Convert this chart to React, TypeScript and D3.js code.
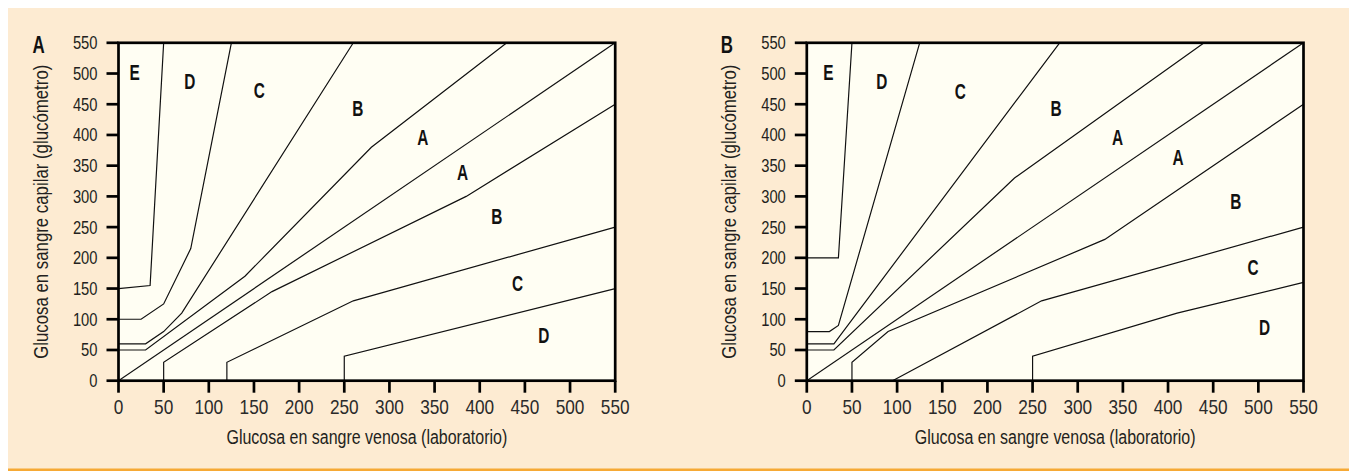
import React from "react";
import * as d3 from "d3";

// Parkes consensus error grid, type 1 (A) and type 2 (B), mg/dL
const ticks = [0, 50, 100, 150, 200, 250, 300, 350, 400, 450, 500, 550];

const diagonal: [number, number][] = [[0, 0], [550, 550]];

const linesType1: [number, number][][] = [
  [[0, 50], [30, 50], [140, 170], [280, 380], [430, 550]],
  [[50, 0], [50, 30], [170, 145], [385, 300], [550, 450]],
  [[0, 60], [30, 60], [50, 80], [70, 110], [260, 550]],
  [[120, 0], [120, 30], [260, 130], [550, 250]],
  [[0, 100], [25, 100], [50, 125], [80, 215], [125, 550]],
  [[250, 0], [250, 40], [550, 150]],
  [[0, 150], [35, 155], [50, 550]],
];

const linesType2: [number, number][][] = [
  [[0, 50], [30, 50], [230, 330], [440, 550]],
  [[50, 0], [50, 30], [90, 80], [330, 230], [550, 450]],
  [[0, 60], [30, 60], [280, 550]],
  [[95, 0], [260, 130], [550, 250]],
  [[0, 80], [25, 80], [35, 90], [125, 550]],
  [[250, 0], [250, 40], [410, 110], [550, 160]],
  [[0, 200], [35, 200], [50, 550]],
];

const zonesType1 = [
  { t: "E", x: 18, y: 502 },
  { t: "D", x: 79, y: 487 },
  { t: "C", x: 156, y: 473 },
  { t: "B", x: 265, y: 444 },
  { t: "A", x: 337, y: 397 },
  { t: "A", x: 381, y: 339 },
  { t: "B", x: 419, y: 268 },
  { t: "C", x: 442, y: 159 },
  { t: "D", x: 471, y: 75 },
];

const zonesType2 = [
  { t: "E", x: 24, y: 502 },
  { t: "D", x: 83, y: 488 },
  { t: "C", x: 170, y: 472 },
  { t: "B", x: 276, y: 443 },
  { t: "A", x: 344, y: 397 },
  { t: "A", x: 411, y: 364 },
  { t: "B", x: 475, y: 292 },
  { t: "C", x: 494, y: 185 },
  { t: "D", x: 507, y: 87 },
];

const font = "'Liberation Sans', Arial, sans-serif";
const ink = "#231f20";

type NProps = {
  x: number;
  y: number;
  size: number;
  anchor?: "start" | "middle" | "end";
  bold?: boolean;
  rotate?: number;
  dy?: string;
  fill?: string;
  sx?: number;
  children: React.ReactNode;
};

// no condensed face installed, so squeeze the text horizontally
const NText = ({ x, y, size, anchor = "middle", bold, rotate = 0, dy, fill = ink, sx = 0.82, children }: NProps) => (
  <text
    transform={`translate(${x},${y}) rotate(${rotate}) scale(${sx},1)`}
    textAnchor={anchor}
    fontSize={size}
    fontWeight={bold ? "bold" : "normal"}
    fontFamily={font}
    dy={dy}
    fill={fill}
  >
    {children}
  </text>
);

type PanelProps = {
  left: number;
  letter: string;
  lines: [number, number][][];
  zones: { t: string; x: number; y: number }[];
};

const Panel = ({ left, letter, lines, zones }: PanelProps) => {
  const x = d3.scaleLinear().domain([0, 550]).range([left, left + 496.7]);
  const y = d3.scaleLinear().domain([0, 550]).range([380.7, 42.8]);
  const line = d3
    .line<[number, number]>()
    .x((d) => x(d[0]))
    .y((d) => y(d[1]));
  const clipId = "clip-" + letter;
  const w = x(550) - x(0);
  const h = y(0) - y(550);

  return (
    <g>
      <defs>
        <clipPath id={clipId}>
          <rect x={x(0)} y={y(550)} width={w} height={h} />
        </clipPath>
      </defs>
      <rect x={x(0)} y={y(550)} width={w} height={h} fill="#fffef3" />
      <g clipPath={`url(#${clipId})`} fill="none" stroke="#111" strokeWidth={1.2}>
        <path d={line(diagonal) || ""} />
        {lines.map((l, i) => (
          <path key={i} d={line(l) || ""} />
        ))}
      </g>
      <rect x={x(0)} y={y(550)} width={w} height={h} fill="none" stroke="#000" strokeWidth={2.7} />
      {ticks.map((t) => (
        <g key={"y" + t}>
          <line x1={x(0) - 12} x2={x(0)} y1={y(t)} y2={y(t)} stroke="#000" strokeWidth={2.7} />
          <NText x={x(0) - 21} y={y(t)} dy="0.36em" size={18} anchor="end">
            {t}
          </NText>
        </g>
      ))}
      {ticks.map((t) => (
        <g key={"x" + t}>
          <line x1={x(t)} x2={x(t)} y1={y(0)} y2={y(0) + 12} stroke="#000" strokeWidth={2.7} />
          <NText x={x(t)} y={414} size={21} fill="#2a2a2a">
            {t}
          </NText>
        </g>
      ))}
      {zones.map((z, i) => (
        <NText key={"z" + i} x={x(z.x)} y={y(z.y)} dy="0.36em" size={22} sx={0.7} bold fill="#111">
          {z.t}
        </NText>
      ))}
      <NText x={(x(0) + x(550)) / 2} y={444} size={19.5}>
        Glucosa en sangre venosa (laboratorio)
      </NText>
      <NText x={x(0) - 71} y={(y(0) + y(550)) / 2} size={20.5} rotate={-90}>
        Glucosa en sangre capilar (glucómetro)
      </NText>
      <NText x={x(0) - 80} y={52.5} size={23.5} sx={0.72} bold fill="#111">
        {letter}
      </NText>
    </g>
  );
};

const App = () => {
  return (
    <svg width={1349} height={471} style={{ position: "absolute", left: 0, top: 0 }}>
      <rect x={8} y={8} width={1341} height={461} fill="#fdebd2" />
      <rect x={8} y={468.5} width={1341} height={2.5} fill="#f6a935" />
      <Panel left={118.5} letter="A" lines={linesType1} zones={zonesType1} />
      <Panel left={806.8} letter="B" lines={linesType2} zones={zonesType2} />
    </svg>
  );
};

export default App;
